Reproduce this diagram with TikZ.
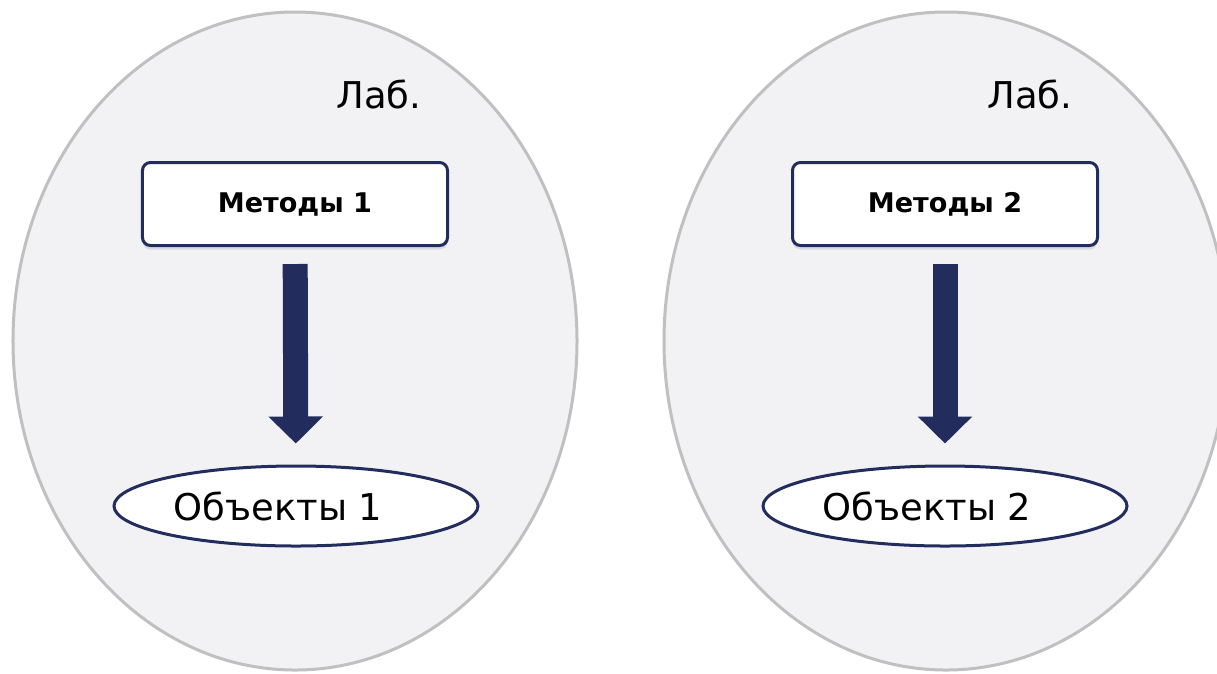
\documentclass[tikz,border=0pt]{standalone}
\usepackage{fontspec}
\setmainfont{DejaVu Sans}
\usetikzlibrary{shapes.geometric,arrows.meta,shadows}
\definecolor{navy}{RGB}{34,45,94}
\definecolor{labfill}{RGB}{242,242,245}
\definecolor{labedge}{RGB}{192,192,192}

\begin{document}
\begin{tikzpicture}[x=0.2mm,y=-0.2mm]
  \tikzstyle{lab} = [ellipse, minimum width=11.28cm, minimum height=13.16cm, fill=labfill, draw=labedge, line width=0.06cm]
  \tikzstyle{labname} = [anchor=base, inner sep=0pt, font=\fontsize{21}{25}\selectfont]
  \tikzstyle{method} = [rectangle, rounded corners=0.16cm, minimum width=6.1cm, minimum height=1.66cm, text centered, fill=white, draw=navy, line width=0.06cm, font=\bfseries\fontsize{15.4}{18}\selectfont, drop shadow={shadow xshift=0cm, shadow yshift=-0.08cm, opacity=0.12, fill=navy}]
  \tikzstyle{object} = [ellipse, minimum width=7.28cm, minimum height=1.6cm, fill=white, draw=navy, line width=0.06cm, font=\fontsize{21}{25}\selectfont]
  \tikzstyle{flow} = [navy, line width=0.5cm, -{Triangle[length=0.54cm, width=1.06cm]}, shorten <=0.34cm, shorten >=0.42cm]

  \useasboundingbox (0,0) rectangle (1217,673);
  \clip (0,0) rectangle (1217,673);

  \node (lab1) [lab] at (295,341) {};
  \node (lab2) [lab] at (946,341) {};

  \node (labname1) [labname] at (379,108) {Лаб.};
  \node (labname2) [labname] at (1030,108) {Лаб.};

  \node (methods1) [method] at (295,204) {Методы 1};
  \node (methods2) [method] at (945,204) {Методы 2};

  \node (objects1) [object] at (296,506) {Объекты 1\kern0.72cm};
  \node (objects2) [object] at (945,506) {Объекты 2\kern0.72cm};

  \draw [flow] (methods1) -- (objects1);
  \draw [flow] (methods2) -- (objects2);
\end{tikzpicture}
\end{document}
